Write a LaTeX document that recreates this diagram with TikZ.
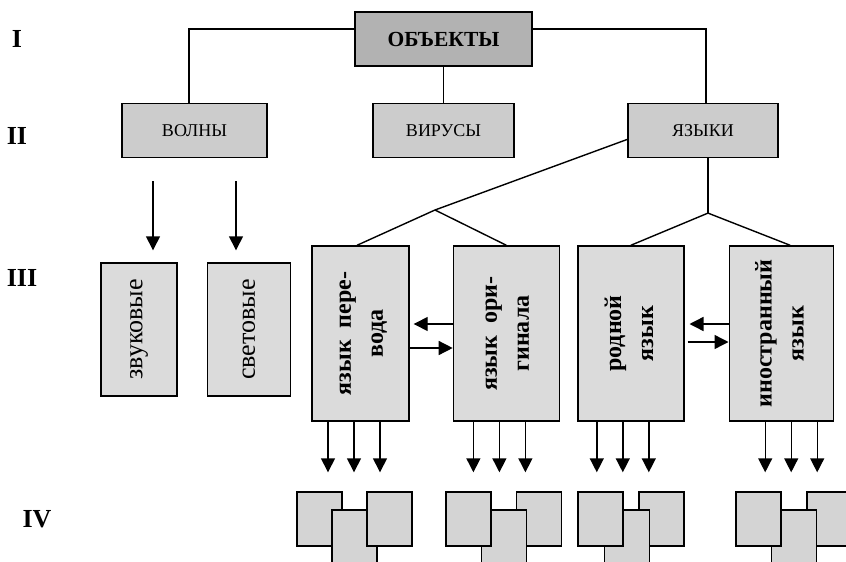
\documentclass[tikz,border=0pt]{standalone}
\usepackage{fontspec}
\setmainfont{Liberation Serif}
\usepackage{graphicx}
\usetikzlibrary{arrows.meta,positioning}
\definecolor{objfill}{gray}{0.70}
\definecolor{catfill}{gray}{0.80}
\definecolor{langfill}{gray}{0.86}
\definecolor{itemfill}{gray}{0.83}
\newcommand{\vtext}[1]{\rotatebox{90}{\begin{tabular}{@{}c@{}}#1\end{tabular}}}

\begin{document}
\begin{tikzpicture}[x=1pt, y=-1pt,
  box/.style={draw, line width=1.4pt, inner sep=0pt, align=center},
  rootbox/.style={box, fill=objfill, minimum width=177pt, minimum height=54pt,
    font=\fontsize{21.5}{24}\selectfont\bfseries},
  catbox/.style={box, fill=catfill, minimum height=54pt, font=\fontsize{18}{22}\selectfont},
  kindbox/.style={box, fill=langfill, minimum height=133pt, font=\fontsize{26}{30}\selectfont},
  langbox/.style={box, fill=langfill, minimum height=175pt, font=\fontsize{24}{32}\selectfont\bfseries},
  itembox/.style={box, fill=itemfill, minimum width=45pt, minimum height=54pt},
  lvl/.style={font=\fontsize{26}{30}\selectfont\bfseries},
  ln/.style={line width=1.4pt},
  arr/.style={-{Triangle[length=14pt, width=14pt]}, line width=1.4pt}
]
  \useasboundingbox (0,0) rectangle (846,562);
  \clip (0,0) rectangle (846,562);

  \node[lvl] (l1) at (17,39) {I};
  \node[lvl] (l2) at (17,136) {II};
  \node[lvl] (l3) at (22,278) {III};
  \node[lvl] (l4) at (37,519) {IV};

  \node[rootbox] (obj) at (443.5,39) {ОБЪЕКТЫ};
  \node[catbox, minimum width=145pt, below=36pt of obj, xshift=-249pt] (volny) {ВОЛНЫ};
  \node[catbox, minimum width=141pt, below=36pt of obj] (virus) {ВИРУСЫ};
  \node[catbox, minimum width=150pt, below=36pt of obj, xshift=259.5pt] (yaz) {ЯЗЫКИ};

  \node[kindbox, minimum width=76pt] (zvuk) at (139,329.5) {\rotatebox{90}{звуковые}};
  \node[kindbox, minimum width=83pt, right=29pt of zvuk] (svet) {\rotatebox{90}{световые}};

  \node[langbox, minimum width=97pt] (perevod) at (360.5,333.5) {\vtext{язык\hspace{0.5em}пере-\\вода}};
  \node[langbox, minimum width=106pt, right=43pt of perevod] (orig) {\vtext{язык\hspace{0.5em}ори-\\гинала}};
  \node[langbox, minimum width=106pt, right=17pt of orig] (rodn) {\vtext{родной\\язык}};
  \node[langbox, minimum width=104pt, right=44pt of rodn] (inostr) {\vtext{иностранный\\язык}};

  \foreach \n/\x/\y in {g1l/319.5/519, g1m/354.5/537, g1r/389.5/519,
    g2r/539/519, g2m/504/537, g2l/468.5/519,
    g3r/661.5/519, g3m/627/537, g3l/600.5/519,
    g4r/829.5/519, g4m/794/537, g4l/758.5/519}
    \node[itembox] (\n) at (\x,\y) {};

  \coordinate (j1) at (435,210);
  \coordinate (j2) at ([xshift=5pt,yshift=-55pt]yaz.south);

  \draw[ln] ([yshift=10pt]obj.west) -| ([xshift=-5.5pt]volny.north);
  \draw[ln] ([yshift=10pt]obj.east) -| ([xshift=3pt]yaz.north);
  \draw[ln] (obj) -- (virus);

  \draw[ln] ([yshift=-9pt]yaz.west) -- (j1);
  \draw[ln] (j1) -- ([xshift=-3.5pt]perevod.north);
  \draw[ln] (j1) -- (orig.north);
  \draw[ln] ([xshift=5pt]yaz.south) -- (j2);
  \draw[ln] (j2) -- (rodn.north);
  \draw[ln] (j2) -- ([xshift=9pt]inostr.north);

  \foreach \o in {-41.5,41.5}
    \draw[arr, shorten <=23pt, shorten >=12pt] ([xshift=\o pt]volny.south) -- ([xshift=\o pt]volny.south |- zvuk.north);

  \draw[arr, shorten >=4pt] ([yshift=9.5pt]orig.west) -- ([yshift=9.5pt]perevod.east);
  \draw[arr] ([yshift=-14.5pt]perevod.east) -- ([yshift=-14.5pt]orig.west);
  \draw[arr, shorten >=5pt] ([yshift=9.5pt]inostr.west) -- ([yshift=9.5pt]rodn.east);
  \draw[arr, shorten <=3pt] ([yshift=-8.5pt]rodn.east) -- ([yshift=-8.5pt]inostr.west);

  \foreach \b/\g/\s in {perevod/g1/0, orig/g2/-0.5, rodn/g3/-1.5, inostr/g4/16.5}
    \foreach \o in {-32.5,-6.5,19.5}
      \draw[arr, shorten >=19pt] ([xshift=\o pt+\s pt]\b.south) -- ([xshift=\o pt+\s pt]\b.south |- \g l.north);
\end{tikzpicture}
\end{document}
